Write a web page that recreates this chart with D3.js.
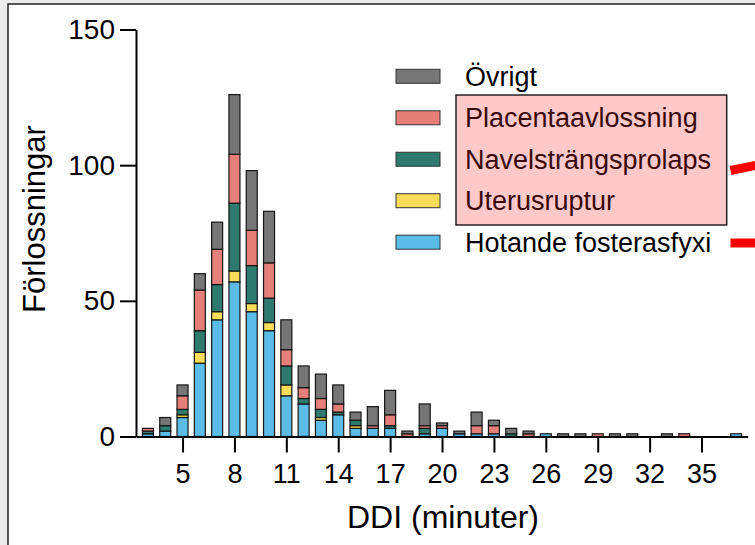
<!DOCTYPE html>
<html>
<head>
<meta charset="utf-8">
<style>
	html, body {
		margin: 0;
		padding: 0;
		background: #ececec;
	}

	svg {
		display: block;
		font-family: "Liberation Sans", Arial, sans-serif;
	}

	.axis text {
		fill: #000;
		font-size: 27px;
	}

	.axis path,
	.axis line {
		stroke: #000;
		stroke-width: 2px;
	}

	.seg {
		stroke: #151515;
		stroke-width: 1.2px;
	}
</style>
</head>
<body>
<div id="chart-container"></div>

<script src="https://cdnjs.cloudflare.com/ajax/libs/d3/7.8.5/d3.min.js"></script>
<script>
	// DDI in minutes, one bar per minute
	const ddi = d3.range(3, 38);

	// counts per cause, same order as ddi (3 .. 37)
	const hotande   = [1, 2, 7, 27, 43, 57, 46, 39, 15, 12, 6, 8, 3, 3, 3, 0, 1, 3, 1, 1, 1, 0, 0, 1, 0, 0, 0, 0, 0, 0, 0, 0, 0, 0, 1];
	const uterus    = [0, 0, 1, 4, 3, 4, 3, 3, 4, 0, 1, 0, 1, 0, 0, 0, 0, 0, 0, 0, 0, 0, 0, 0, 0, 0, 0, 0, 0, 0, 0, 0, 0, 0, 0];
	const navel     = [1, 2, 2, 8, 10, 25, 14, 9, 7, 2, 3, 1, 2, 0, 1, 0, 2, 0, 0, 0, 0, 1, 0, 0, 0, 0, 0, 0, 0, 0, 0, 0, 0, 0, 0];
	const placenta  = [1, 0, 5, 15, 13, 18, 13, 13, 6, 4, 4, 3, 0, 1, 4, 1, 1, 1, 0, 3, 3, 0, 1, 0, 0, 0, 1, 0, 0, 0, 0, 1, 0, 0, 0];
	const ovrigt    = [0, 3, 4, 6, 10, 22, 22, 19, 11, 8, 9, 7, 3, 7, 9, 1, 8, 1, 1, 5, 2, 2, 1, 0, 1, 1, 0, 1, 1, 0, 1, 0, 0, 0, 0];

	const seriesNames = ["Hotande fosterasfyxi", "Uterusruptur", "Navelsträngsprolaps", "Placentaavlossning", "Övrigt"];
	const seriesKeys = ["hotande", "uterus", "navel", "placenta", "ovrigt"];
	const colors = ["#5bbde7", "#f8dc5a", "#2e7a6f", "#e67f7a", "#767676"];

	const xTicks = [5, 8, 11, 14, 17, 20, 23, 26, 29, 32, 35];
	const yTicks = [0, 50, 100, 150];

	// build rows for the stack
	const rows = ddi.map((d, i) => ({
		ddi: d,
		hotande: hotande[i],
		uterus: uterus[i],
		navel: navel[i],
		placenta: placenta[i],
		ovrigt: ovrigt[i]
	}));

	const svgWidth = 755;
	const svgHeight = 545;

	const svg = d3.select("#chart-container")
		.append("svg")
		.attr("width", svgWidth)
		.attr("height", svgHeight);

	// white panel with the frame (runs off right and bottom)
	svg.append("rect")
		.attr("x", 8)
		.attr("y", 4)
		.attr("width", 800)
		.attr("height", 600)
		.attr("fill", "#fff")
		.attr("stroke", "#000")
		.attr("stroke-width", 1.3);

	const x = d3.scaleLinear().domain([2.31, 37.67]).range([136, 747.7]);
	const y = d3.scaleLinear().domain([0, 150]).range([436.5, 29.5]);

	const barWidth = 11;

	const stacked = d3.stack().keys(seriesKeys)(rows);

	svg.append("g")
		.selectAll("g")
		.data(stacked)
		.join("g")
		.attr("fill", (d, i) => colors[i])
		.selectAll("rect")
		.data(d => d.filter(s => s[1] > s[0]))
		.join("rect")
		.attr("class", "seg")
		.attr("x", d => x(d.data.ddi) - barWidth / 2)
		.attr("y", d => y(d[1]))
		.attr("width", barWidth)
		.attr("height", d => y(d[0]) - y(d[1]));

	// x axis
	svg.append("g")
		.attr("class", "axis")
		.attr("transform", `translate(0, ${y(0)})`)
		.call(d3.axisBottom(x).tickValues(xTicks).tickSize(16).tickSizeOuter(0).tickPadding(11));

	// y axis
	const yAxis = svg.append("g")
		.attr("class", "axis")
		.attr("transform", `translate(${x.range()[0]}, 0)`)
		.call(d3.axisLeft(y).tickValues(yTicks).tickSize(16).tickSizeOuter(0).tickPadding(5));
	yAxis.selectAll("text").style("font-size", "28px");

	// axis titles
	svg.append("text")
		.attr("x", 443)
		.attr("y", 528)
		.attr("text-anchor", "middle")
		.style("font-size", "32px")
		.text("DDI (minuter)");

	svg.append("text")
		.attr("transform", "translate(45, 219) rotate(-90)")
		.attr("text-anchor", "middle")
		.style("font-size", "31px")
		.text("Förlossningar");

	// pink highlight box behind the three middle legend entries
	svg.append("rect")
		.attr("x", 456)
		.attr("y", 95)
		.attr("width", 270.7)
		.attr("height", 130)
		.attr("fill", "#ffc9c9")
		.attr("stroke", "#222")
		.attr("stroke-width", 1.5);

	// legend, top to bottom: Övrigt first
	const legendY = d3.scalePoint().domain(d3.range(5)).range([76.3, 242.2]);
	const legend = svg.append("g")
		.selectAll("g")
		.data(seriesNames.map((n, i) => ({ name: n, color: colors[i], idx: i })).reverse())
		.join("g")
		.attr("transform", (d, i) => `translate(0, ${legendY(i)})`);

	legend.append("rect")
		.attr("x", 396)
		.attr("y", -7)
		.attr("width", 44)
		.attr("height", 14)
		.attr("fill", d => d.color)
		.attr("stroke", "#333")
		.attr("stroke-width", 1);

	legend.append("text")
		.attr("x", 465)
		.attr("y", 9.5)
		.style("font-size", "27px")
		.attr("fill", d => (d.idx >= 1 && d.idx <= 3) ? "#3a0808" : "#000")
		.text(d => d.name);

	// red marker dashes at the right edge
	svg.append("line")
		.attr("x1", 730.5).attr("y1", 170.5)
		.attr("x2", 760).attr("y2", 164.5)
		.attr("stroke", "#ff0000")
		.attr("stroke-width", 9);

	svg.append("line")
		.attr("x1", 730.5).attr("y1", 243)
		.attr("x2", 760).attr("y2", 243)
		.attr("stroke", "#ff0000")
		.attr("stroke-width", 9);
</script>
</body>
</html>
